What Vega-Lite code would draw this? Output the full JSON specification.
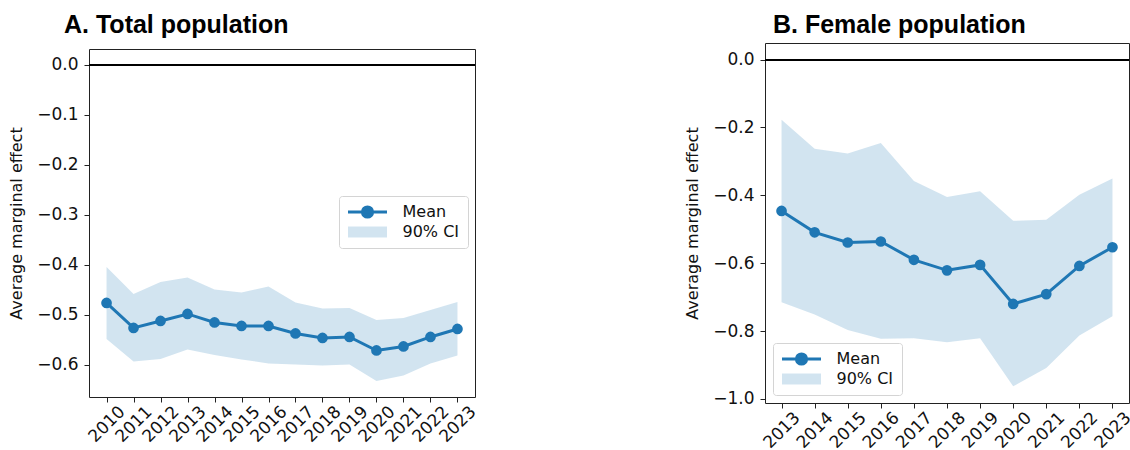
{
  "$schema": "https://vega.github.io/schema/vega-lite/v6.json",
  "autosize": {"type": "none"},
  "padding": {"left": 89, "top": 43, "right": 1041, "bottom": 407},
  "background": "white",
  "datasets": {
    "total": [
      {"year": 2010, "mean": -0.476, "lo": -0.548, "hi": -0.404},
      {"year": 2011, "mean": -0.526, "lo": -0.593, "hi": -0.458},
      {"year": 2012, "mean": -0.512, "lo": -0.588, "hi": -0.434},
      {"year": 2013, "mean": -0.498, "lo": -0.569, "hi": -0.425},
      {"year": 2014, "mean": -0.515, "lo": -0.580, "hi": -0.449},
      {"year": 2015, "mean": -0.522, "lo": -0.589, "hi": -0.455},
      {"year": 2016, "mean": -0.522, "lo": -0.597, "hi": -0.443},
      {"year": 2017, "mean": -0.537, "lo": -0.599, "hi": -0.475},
      {"year": 2018, "mean": -0.546, "lo": -0.601, "hi": -0.487},
      {"year": 2019, "mean": -0.544, "lo": -0.599, "hi": -0.486},
      {"year": 2020, "mean": -0.571, "lo": -0.632, "hi": -0.510},
      {"year": 2021, "mean": -0.563, "lo": -0.621, "hi": -0.506},
      {"year": 2022, "mean": -0.544, "lo": -0.597, "hi": -0.490},
      {"year": 2023, "mean": -0.528, "lo": -0.581, "hi": -0.474}
    ],
    "female": [
      {"year": 2013, "mean": -0.446, "lo": -0.715, "hi": -0.177},
      {"year": 2014, "mean": -0.509, "lo": -0.751, "hi": -0.263},
      {"year": 2015, "mean": -0.539, "lo": -0.797, "hi": -0.277},
      {"year": 2016, "mean": -0.536, "lo": -0.823, "hi": -0.246},
      {"year": 2017, "mean": -0.590, "lo": -0.821, "hi": -0.358},
      {"year": 2018, "mean": -0.621, "lo": -0.833, "hi": -0.405},
      {"year": 2019, "mean": -0.605, "lo": -0.821, "hi": -0.388},
      {"year": 2020, "mean": -0.720, "lo": -0.963, "hi": -0.475},
      {"year": 2021, "mean": -0.691, "lo": -0.909, "hi": -0.472},
      {"year": 2022, "mean": -0.608, "lo": -0.813, "hi": -0.398},
      {"year": 2023, "mean": -0.553, "lo": -0.756, "hi": -0.350}
    ]
  },
  "spacing": 290,
  "bounds": "flush",
  "center": true,
  "resolve": {"scale": {"color": "independent", "x": "independent", "y": "independent"}, "legend": {"color": "independent"}},
  "hconcat": [
    {
      "width": 386,
      "height": 348,
      "title": {"text": "A. Total population", "anchor": "start", "frame": "group", "dx": -25, "dy": 25, "offset": 16, "baseline": "alphabetic", "font": "Liberation Sans", "fontSize": 25, "fontWeight": "bold", "color": "black"},
      "data": {"name": "total"},
      "layer": [
        {
          "mark": {"type": "area", "opacity": 1, "fillOpacity": 0.2},
          "encoding": {
            "x": {"field": "year", "type": "quantitative", "scale": {"domain": [2009.35, 2023.65], "nice": false, "zero": false},
              "axis": {"values": [2010,2011,2012,2013,2014,2015,2016,2017,2018,2019,2020,2021,2022,2023], "format": "d", "title": null, "labelOverlap": false}},
            "y": {"field": "lo", "type": "quantitative", "scale": {"domain": [-0.664, 0.0315], "nice": false, "zero": false},
              "axis": {"values": [-0.6,-0.5,-0.4,-0.3,-0.2,-0.1,0], "format": ".1f", "title": "Average marginal effect", "labelOverlap": false}},
            "y2": {"field": "hi"},
            "color": {"datum": "90% CI", "type": "nominal", "scale": {"domain": ["Mean", "90% CI"], "range": ["#1f77b4", "#1f77b4"]},
              "legend": {"title": null, "orient": "none", "legendX": 250, "legendY": 147,
                "encode": {"symbols": {"update": {
                  "shape": {"signal": "datum.value === 'Mean' ? 'M-3.25,0H3.25M-0.85,0A0.85,0.85 0 1,1 0.85,0A0.85,0.85 0 1,1 -0.85,0Z' : 'M-3.25,-0.92H3.25V0.92H-3.25Z'"},
                  "fill": {"value": "#1f77b4"},
                  "fillOpacity": {"signal": "datum.value === 'Mean' ? 1 : 0.2"},
                  "stroke": {"value": "#1f77b4"},
                  "strokeWidth": {"signal": "datum.value === 'Mean' ? 3 : 0"},
                  "opacity": {"value": 1}
                }}}}}
          }
        },
        {
          "mark": {"type": "rule", "color": "black", "strokeWidth": 1.5},
          "encoding": {"y": {"datum": 0}}
        },
        {
          "mark": {"type": "line", "strokeWidth": 3, "point": {"filled": true, "size": 115, "opacity": 1}},
          "encoding": {
            "x": {"field": "year", "type": "quantitative",
              "axis": {"values": [2010,2011,2012,2013,2014,2015,2016,2017,2018,2019,2020,2021,2022,2023], "format": "d", "title": null, "labelOverlap": false}},
            "y": {"field": "mean", "type": "quantitative",
              "axis": {"values": [-0.6,-0.5,-0.4,-0.3,-0.2,-0.1,0], "format": ".1f", "title": "Average marginal effect", "labelOverlap": false}},
            "color": {"datum": "Mean", "type": "nominal",
              "legend": {"title": null, "orient": "none", "legendX": 250, "legendY": 147,
                "encode": {"symbols": {"update": {
                  "shape": {"signal": "datum.value === 'Mean' ? 'M-3.25,0H3.25M-0.85,0A0.85,0.85 0 1,1 0.85,0A0.85,0.85 0 1,1 -0.85,0Z' : 'M-3.25,-0.92H3.25V0.92H-3.25Z'"},
                  "fill": {"value": "#1f77b4"},
                  "fillOpacity": {"signal": "datum.value === 'Mean' ? 1 : 0.2"},
                  "stroke": {"value": "#1f77b4"},
                  "strokeWidth": {"signal": "datum.value === 'Mean' ? 3 : 0"},
                  "opacity": {"value": 1}
                }}}}}
          }
        }
      ]
    },
    {
      "width": 364,
      "height": 360,
      "title": {"text": "B. Female population", "anchor": "start", "frame": "group", "dx": 8, "dy": 24, "offset": 9, "baseline": "alphabetic", "font": "Liberation Sans", "fontSize": 25, "fontWeight": "bold", "color": "black"},
      "data": {"name": "female"},
      "layer": [
        {
          "mark": {"type": "area", "opacity": 1, "fillOpacity": 0.2},
          "encoding": {
            "x": {"field": "year", "type": "quantitative", "scale": {"domain": [2012.5, 2023.5], "nice": false, "zero": false},
              "axis": {"values": [2013,2014,2015,2016,2017,2018,2019,2020,2021,2022,2023], "format": "d", "title": null, "labelOverlap": false}},
            "y": {"field": "lo", "type": "quantitative", "scale": {"domain": [-1.012, 0.049], "nice": false, "zero": false},
              "axis": {"values": [-1.0,-0.8,-0.6,-0.4,-0.2,0], "format": ".1f", "title": "Average marginal effect", "labelOverlap": false}},
            "y2": {"field": "hi"},
            "color": {"datum": "90% CI", "type": "nominal", "scale": {"domain": ["Mean", "90% CI"], "range": ["#1f77b4", "#1f77b4"]},
              "legend": {"title": null, "orient": "bottom-left", "offset": 8,
                "encode": {"symbols": {"update": {
                  "shape": {"signal": "datum.value === 'Mean' ? 'M-3.25,0H3.25M-0.85,0A0.85,0.85 0 1,1 0.85,0A0.85,0.85 0 1,1 -0.85,0Z' : 'M-3.25,-0.92H3.25V0.92H-3.25Z'"},
                  "fill": {"value": "#1f77b4"},
                  "fillOpacity": {"signal": "datum.value === 'Mean' ? 1 : 0.2"},
                  "stroke": {"value": "#1f77b4"},
                  "strokeWidth": {"signal": "datum.value === 'Mean' ? 3 : 0"},
                  "opacity": {"value": 1}
                }}}}}
          }
        },
        {
          "mark": {"type": "rule", "color": "black", "strokeWidth": 1.5},
          "encoding": {"y": {"datum": 0}}
        },
        {
          "mark": {"type": "line", "strokeWidth": 3, "point": {"filled": true, "size": 115, "opacity": 1}},
          "encoding": {
            "x": {"field": "year", "type": "quantitative",
              "axis": {"values": [2013,2014,2015,2016,2017,2018,2019,2020,2021,2022,2023], "format": "d", "title": null, "labelOverlap": false}},
            "y": {"field": "mean", "type": "quantitative",
              "axis": {"values": [-1.0,-0.8,-0.6,-0.4,-0.2,0], "format": ".1f", "title": "Average marginal effect", "labelOverlap": false}},
            "color": {"datum": "Mean", "type": "nominal",
              "legend": {"title": null, "orient": "bottom-left", "offset": 8,
                "encode": {"symbols": {"update": {
                  "shape": {"signal": "datum.value === 'Mean' ? 'M-3.25,0H3.25M-0.85,0A0.85,0.85 0 1,1 0.85,0A0.85,0.85 0 1,1 -0.85,0Z' : 'M-3.25,-0.92H3.25V0.92H-3.25Z'"},
                  "fill": {"value": "#1f77b4"},
                  "fillOpacity": {"signal": "datum.value === 'Mean' ? 1 : 0.2"},
                  "stroke": {"value": "#1f77b4"},
                  "strokeWidth": {"signal": "datum.value === 'Mean' ? 3 : 0"},
                  "opacity": {"value": 1}
                }}}}}
          }
        }
      ]
    }
  ],
  "config": {
    "view": {"stroke": "#222", "strokeWidth": 1},
    "axis": {
      "domain": false, "grid": false, "ticks": true, "tickSize": 5, "tickColor": "#222", "tickWidth": 1,
      "labelFont": "DejaVu Sans", "labelFontSize": 17, "labelColor": "#111", "labelPadding": 6,
      "titleFont": "DejaVu Sans", "titleFontSize": 16, "titleFontWeight": "normal", "titleColor": "#111", "titlePadding": 12,
      "labelOverlap": false, "labelFlush": false, "labelBound": false
    },
    "axisX": {"labelAngle": -45, "labelAlign": "center", "labelBaseline": "middle", "labelPadding": 22},
    "legend": {
      "labelFont": "DejaVu Sans", "labelFontSize": 16, "labelColor": "#111",
      "symbolSize": 144, "symbolOffset": 12.5, "labelOffset": 27,
      "padding": 8, "rowPadding": -2, "strokeColor": "#d4d4d4", "fillColor": "white", "cornerRadius": 3
    }
  }
}
